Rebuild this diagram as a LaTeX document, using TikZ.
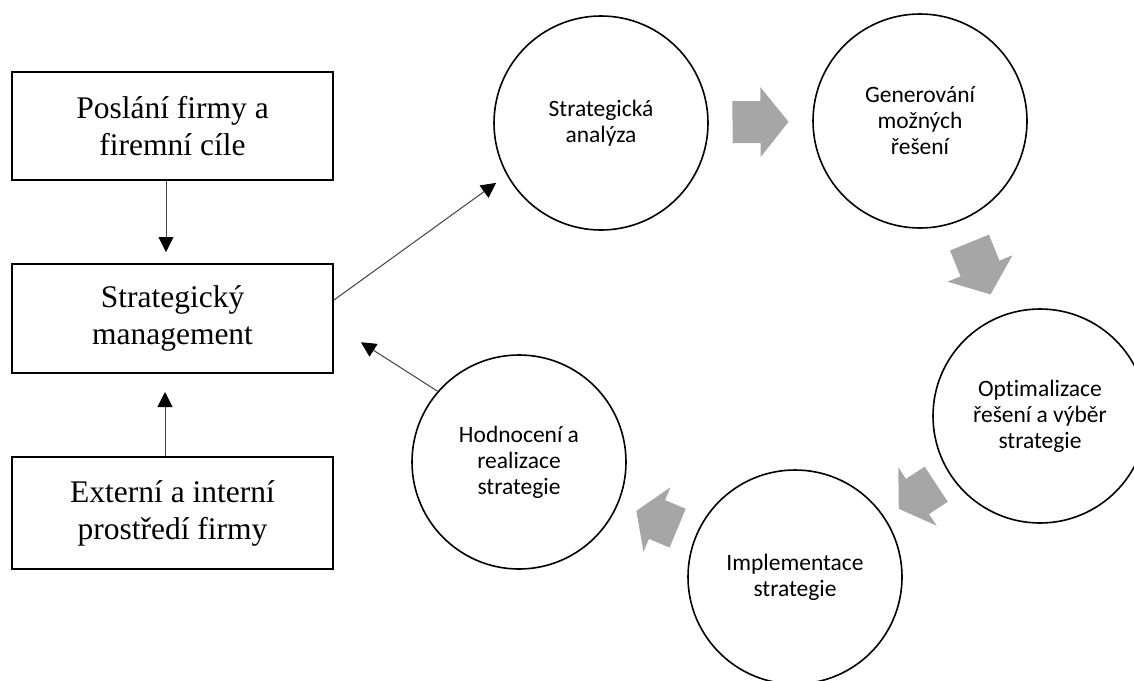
\documentclass[tikz,border=0pt]{standalone}
\usepackage{fontspec}
\setmainfont{Liberation Serif}
\newfontfamily\circfont[Ligatures=NoCommon]{Carlito}
\usetikzlibrary{arrows.meta,calc}
\definecolor{flowgray}{HTML}{A6A6A6}

\begin{document}
\begin{tikzpicture}[x=1pt,y=-1pt,
  box/.style={draw, line width=2pt, minimum width=321pt, inner sep=0pt,
    align=center, font=\fontsize{31.5}{37}\selectfont},
  stage/.style={circle, draw, line width=1.6pt, minimum size=214pt,
    inner sep=0pt, align=center, font=\circfont\fontsize{23.5}{26}\selectfont},
  link/.style={line width=1pt, draw=black!75,
    -{Triangle[length=15pt,width=15pt,color=black]}},
  cycarrow/.pic={\fill[flowgray] (-28,-21) -- (0,-21) -- (0,-35) -- (28,0)
    -- (0,35) -- (0,21) -- (-28,21) -- cycle;}
]
\useasboundingbox (0,0) rectangle (1134,680);
\clip (0,0) rectangle (1134,680);

% left column of boxes
\node[box, minimum height=108pt] (b1) at (172.5,126) {Poslání firmy a\\firemní cíle};
\node[box, minimum height=109pt] (b2) at (172.5,318.5) {Strategický\\management};
\node[box, minimum height=112pt] (b3) at (172.5,513) {Externí a interní\\prostředí firmy};

% cycle of stages
\node[stage] (c1) at (601,123) {Strategická\\analýza};
\node[stage] (c2) at (920,121) {Generování\\možných\\řešení};
\node[stage] (c3) at (1040,416) {Optimalizace\\řešení a výběr\\strategie};
\node[stage] (c4) at (795,577) {Implementace\\strategie};
\node[stage] (c5) at (519,462) {Hodnocení a\\realizace\\strategie};

% block arrows between the stages
\foreach \a/\b/\s in {c1/c2/1, c2/c3/1, c3/c4/0.8, c4/c5/0.8}
  \path let \p1=($(\b)-(\a)$), \n1={atan2(\y1,\x1)} in
    pic[rotate=\n1, xscale=\s] at ($(\a)!0.5!(\b)$) {cycarrow};

% connectors
\draw[link, shorten >=11pt] ([xshift=-6.5pt]b1.south) -- ([xshift=-6.5pt]b2.north);
\draw[link, shorten >=18pt] ([xshift=-7.5pt]b3.north) -- ([xshift=-7.5pt]b2.south);
\draw[link, shorten >=13pt] ([yshift=18.5pt]b2.east) -- (c1.209);
\draw[link, shorten >=32pt] (c5.139) -- ([yshift=-6.5pt]b2.east);
\end{tikzpicture}
\end{document}
